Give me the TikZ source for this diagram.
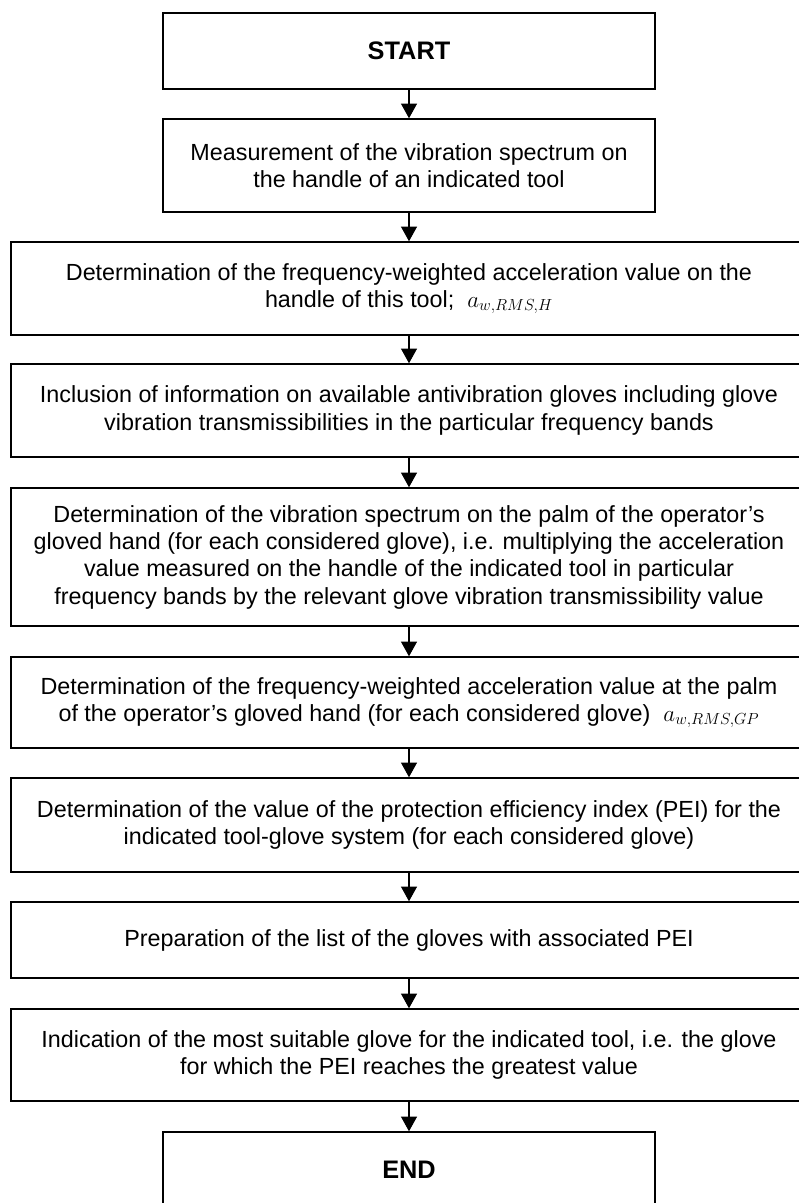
\documentclass[tikz,border=0pt]{standalone}
\usepackage{fontspec}
\setmainfont{Liberation Sans}
\usetikzlibrary{arrows.meta,positioning,shapes}

\begin{document}
\begin{tikzpicture}[x=0.75pt,y=-0.75pt,
  wide/.style={draw,line width=1.1pt,minimum width=597pt,align=center,inner sep=0pt,
    font=\fontsize{17.5}{20.5}\selectfont},
  narrow/.style={wide,minimum width=369pt},
  term/.style={narrow,font=\fontsize{19}{22}\selectfont\bfseries},
  flow/.style={-{Triangle[length=11pt,width=12pt]},line width=0.8pt}]
\useasboundingbox (0,0) rectangle (799,1203);
\clip (0,0) rectangle (799,1203);
\node[term,minimum height=57pt] (n0) at (409,51) {START};
\node[narrow,minimum height=69.75pt] (n1) at (409,165.5) {Measurement of the vibration spectrum on\\the handle of an indicated tool};
\node[wide,minimum height=69.75pt] (n2) at (409,288.5) {Determination of the frequency-weighted acceleration value on the\\handle of this tool;\ \ $a_{w,RMS,H}$};
\node[wide,minimum height=69.75pt] (n3) at (409,410.5) {Inclusion of information on available antivibration gloves including glove\\vibration transmissibilities in the particular frequency bands};
\node[wide,minimum height=103.5pt] (n4) at (409,557) {Determination of the vibration spectrum on the palm of the operator's\\gloved hand (for each considered glove), i.e. multiplying the acceleration\\value measured on the handle of the indicated tool in particular\\frequency bands by the relevant glove vibration transmissibility value};
\node[wide,minimum height=68.25pt] (n5) at (409,702.5) {Determination of the frequency-weighted acceleration value at the palm\\of the operator's gloved hand (for each considered glove)\ \ $a_{w,RMS,GP}$};
\node[wide,minimum height=70.5pt] (n6) at (409,825) {Determination of the value of the protection efficiency index (PEI) for the\\indicated tool-glove system (for each considered glove)};
\node[wide,minimum height=57pt] (n7) at (409,940) {Preparation of the list of the gloves with associated PEI};
\node[wide,minimum height=69pt] (n8) at (409,1055) {Indication of the most suitable glove for the indicated tool, i.e. the glove\\for which the PEI reaches the greatest value};
\node[term,minimum height=57pt] (n9) at (409,1170) {END};
\foreach \a/\b in {n0/n1,n1/n2,n2/n3,n3/n4,n4/n5,n5/n6,n6/n7,n7/n8,n8/n9}
  \draw[flow] (\a) -- (\b);
\end{tikzpicture}
\end{document}
